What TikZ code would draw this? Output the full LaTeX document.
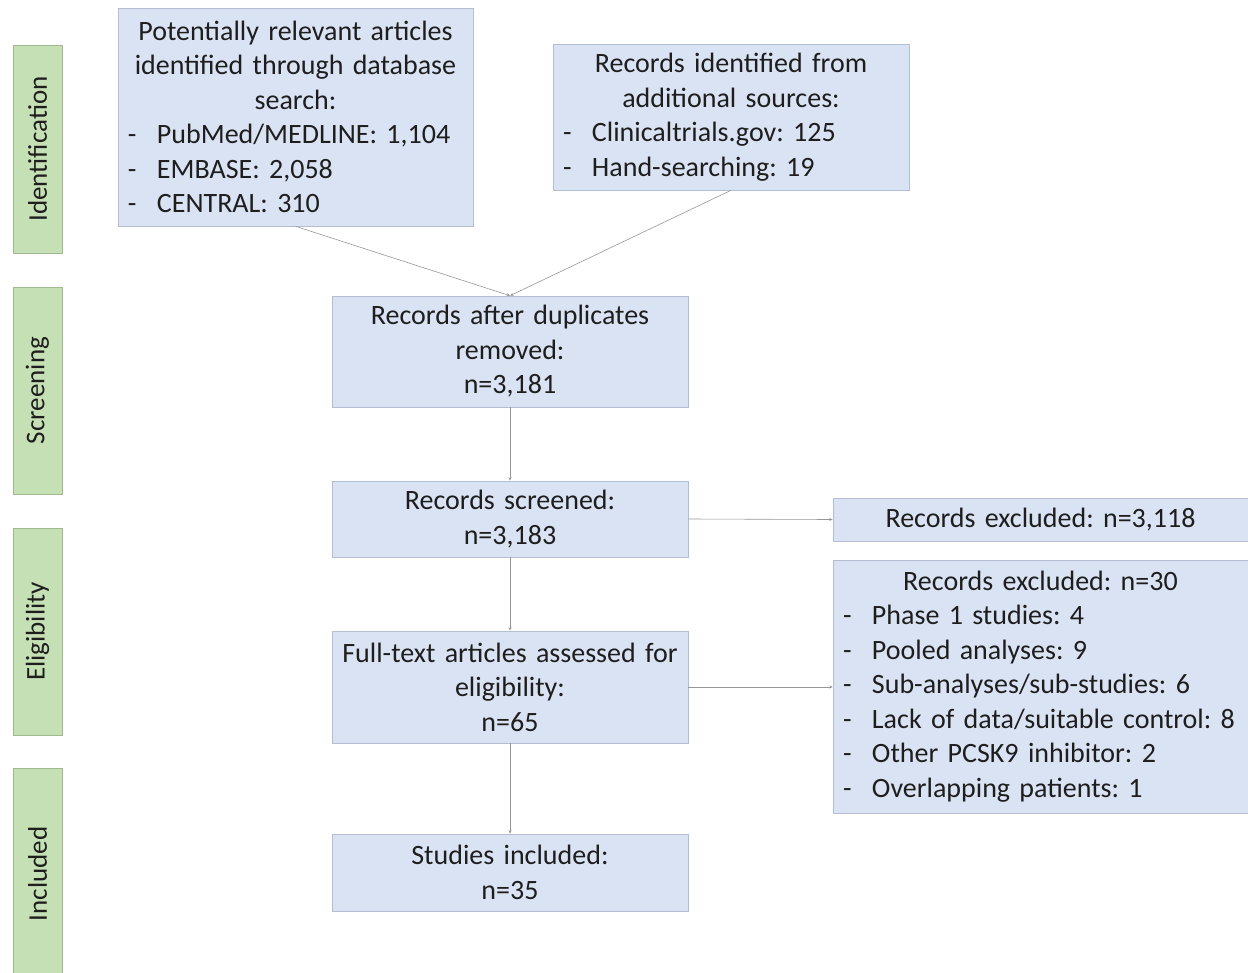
\documentclass[tikz,border=0pt]{standalone}
\usepackage{fontspec}
\setmainfont{Carlito}
\frenchspacing
\usetikzlibrary{arrows.meta}
\definecolor{boxfill}{RGB}{218,227,243}
\definecolor{boxline}{RGB}{180,190,210}
\definecolor{stagefill}{RGB}{197,224,180}
\definecolor{stageline}{RGB}{160,185,145}
\definecolor{txt}{RGB}{30,30,30}
\definecolor{conn}{RGB}{150,150,150}
\newcommand\dashitem[1]{\makebox[\hsize][l]{\makebox[29bp][l]{-}#1}}
\tikzset{
  flowbox/.style={draw=boxline, line width=0.6pt, fill=boxfill, text=txt,
    inner xsep=10bp, inner ysep=0bp, align=center,
    font=\fontsize{28bp}{34.5bp}\selectfont\frenchspacing},
  stage/.style={draw=stageline, line width=0.6pt, fill=stagefill, text=txt,
    minimum width=49bp, inner sep=0pt, rotate=90,
    font=\fontsize{27bp}{32bp}\selectfont},
  conn/.style={draw=conn, line width=0.6pt, -{Stealth[length=3.5pt,width=3pt]}}
}
\begin{document}
\begin{tikzpicture}[x=1bp,y=-1bp]
\useasboundingbox (0,0) rectangle (1248,973);
\begin{scope}
\clip (0,0) rectangle (1248,973);
% stage labels
\node[stage, minimum height=49bp, minimum width=208bp] (sid) at (37.5,149) {Identification};
\node[stage, minimum height=49bp, minimum width=207bp] (sscr) at (37.5,390.5) {Screening};
\node[stage, minimum height=49bp, minimum width=207bp] (selig) at (37.5,631.5) {Eligibility};
\node[stage, minimum height=49bp, minimum width=212bp] (sinc) at (37.5,874) {Included};
% boxes
\node[flowbox, text width=335bp, minimum height=218bp] (A) at (295.5,117)
 {Potentially relevant articles\\identified through database\\search:\\
  \dashitem{PubMed/MEDLINE: 1,104}\\\dashitem{EMBASE: 2,058}\\\dashitem{CENTRAL: 310}};
\node[flowbox, text width=336bp, minimum height=146bp] (B) at (731,117)
 {Records identified from\\additional sources:\\
  \dashitem{Clinicaltrials.gov: 125}\\\dashitem{Hand-searching: 19}};
\node[flowbox, text width=336bp, minimum height=111bp] (C) at (510,351.5)
 {Records after duplicates\\removed:\\n=3,181};
\node[flowbox, text width=336bp, minimum height=76bp] (D) at (510,519)
 {Records screened:\\n=3,183};
\node[flowbox, text width=395bp, minimum height=43bp] (E) at (1040.5,519.5)
 {Records excluded: n=3,118};
\node[flowbox, text width=336bp, minimum height=112bp] (F) at (510,687)
 {Full-text articles assessed for\\eligibility:\\n=65};
\node[flowbox, text width=395bp, minimum height=253bp] (G) at (1040.5,686.5)
 {Records excluded: n=30\\
  \dashitem{Phase 1 studies: 4}\\\dashitem{Pooled analyses: 9}\\
  \dashitem{Sub-analyses/sub-studies: 6}\\\dashitem{Lack of data/suitable control: 8}\\
  \dashitem{Other PCSK9 inhibitor: 2}\\\dashitem{Overlapping patients: 1}};
\node[flowbox, text width=336bp, minimum height=77bp] (H) at (510,872.5)
 {Studies included:\\n=35};
% connectors
\draw[conn] (A.south) -- (C.north);
\draw[conn] (B.south) -- (C.north);
\draw[conn] (C.south) -- (D.north);
\draw[conn] (D.east) -- (E.west);
\draw[conn] (D.south) -- (F.north);
\draw[conn] (F.east) -- (F.east -| G.west);
\draw[conn] (F.south) -- (H.north);
\end{scope}
\end{tikzpicture}
\end{document}
